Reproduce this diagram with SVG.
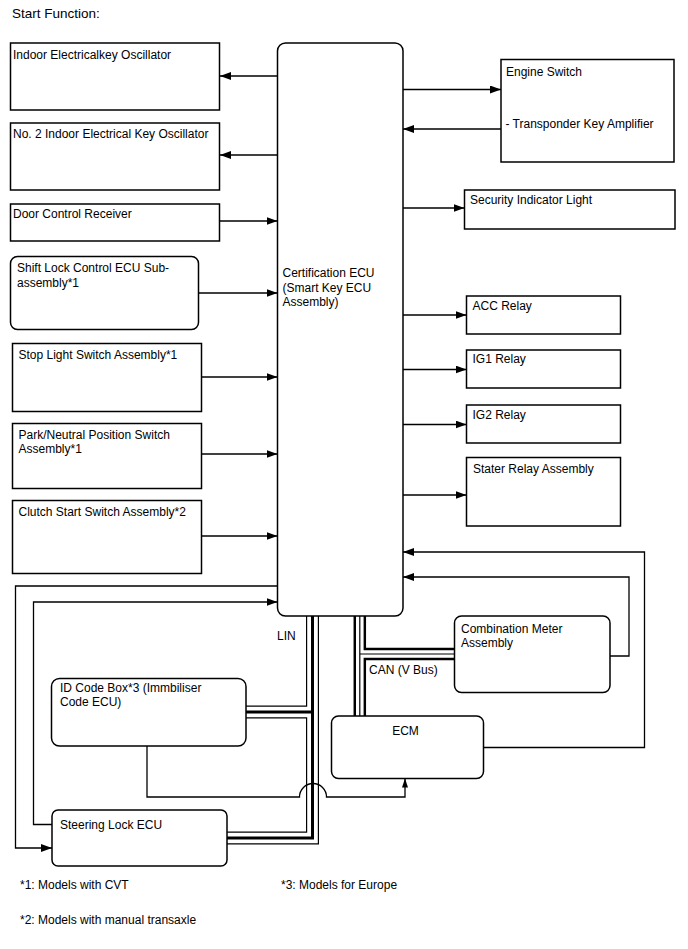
<svg xmlns="http://www.w3.org/2000/svg" width="688" height="949" viewBox="0 0 688 949">
<style>
text{font-family:"Liberation Sans",Arial,sans-serif;font-size:12px;fill:#000}
.box{fill:#fff;stroke:#000;stroke-width:1.5}
.ln{fill:none;stroke:#000;stroke-width:1.3}
.arr{marker-end:url(#ah)}
.lino{fill:none;stroke:#000;stroke-width:13}
.linw{fill:none;stroke:#fff;stroke-width:10.6}
.linc{fill:none;stroke:#000;stroke-width:3}
.cano{fill:none;stroke:#000;stroke-width:12.5}
.canw{fill:none;stroke:#fff;stroke-width:7.6}
.canc{fill:none;stroke:#000;stroke-width:1.2}
</style>
<defs>
<marker id="ah" markerWidth="11" markerHeight="8" refX="11" refY="4" orient="auto" markerUnits="userSpaceOnUse"><path d="M0,0 L11,4 L0,8 z" fill="#000"/></marker>
<marker id="ahs" markerWidth="9" markerHeight="6" refX="9" refY="3" orient="auto" markerUnits="userSpaceOnUse"><path d="M0,0 L9,3 L0,6 z" fill="#000"/></marker>
</defs>
<rect width="688" height="949" fill="#fff"/>
<text x="12" y="17.5" style="font-size:13.5px">Start Function:</text>
<g id="connectors">
<path class="ln arr" d="M277.5,76 H220"/>
<path class="ln arr" d="M277.5,155 H220"/>
<path class="ln arr" d="M220,221 H277.5"/>
<path class="ln arr" d="M198.5,293 H277.5"/>
<path class="ln arr" d="M201.5,377 H277.5"/>
<path class="ln arr" d="M201.5,454 H277.5"/>
<path class="ln arr" d="M201.5,536 H277.5"/>
<path class="ln arr" d="M403,89.5 H501"/>
<path class="ln arr" d="M501,129 H403"/>
<path class="ln arr" d="M403,208 H464.5"/>
<path class="ln arr" d="M403,315 H466.5"/>
<path class="ln arr" d="M403,369.5 H466.5"/>
<path class="ln arr" d="M403,424.5 H466.5"/>
<path class="ln arr" d="M403,495 H466.5"/>
<path class="ln arr" d="M483.5,747.5 H644.5 V552 H403"/>
<path class="ln arr" d="M610,656 H629 V577 H403"/>
<path class="ln arr" d="M277.5,586 H15.5 V848 H52"/>
<path class="ln arr" d="M52,824.5 H33.5 V602 H277.5"/>
<g id="lin-bus">
<path class="lino" d="M312.5,616 V838 H227 M312.5,712 H246"/>
<path class="linw" d="M312.5,616 V838 H227 M312.5,712 H246"/>
<path class="linc" d="M312.5,616 V838 H227 M312.5,712 H246"/>
</g>
<g id="can-bus">
<path class="cano" d="M359.8,616 V716 M359.8,654 H454.5"/>
<path class="canw" d="M359.8,616 V716 M359.8,654 H454.5"/>
<path class="canc" d="M359.8,616 V716 M359.8,654 H454.5"/>
</g>
<path class="ln" d="M147,746 V797 H299.5 A13.5,13.5 0 0 1 326.5,797 H405 V778.5" style="marker-end:url(#ahs)"/>
<text x="277" y="640">LIN</text>
<text x="369" y="673.5">CAN (V Bus)</text>
</g>
<g id="n-indoor"><rect class="box" x="10.5" y="43" width="209" height="67"/><text x="13" y="59">Indoor Electricalkey Oscillator</text></g>
<g id="n-indoor2"><rect class="box" x="10.5" y="123" width="209" height="67"/><text x="13" y="138">No. 2 Indoor Electrical Key Oscillator</text></g>
<g id="n-door"><rect class="box" x="10.5" y="204" width="209" height="37"/><text x="13" y="218">Door Control Receiver</text></g>
<g id="n-shift"><rect class="box" x="10.5" y="256.5" width="188" height="73" rx="7"/><text x="17" y="272">Shift Lock Control ECU Sub-</text><text x="17" y="286.5">assembly*1</text></g>
<g id="n-stop"><rect class="box" x="12.5" y="343.5" width="189" height="68"/><text x="18.5" y="358.5">Stop Light Switch Assembly*1</text></g>
<g id="n-park"><rect class="box" x="12.5" y="423.5" width="189" height="65"/><text x="18.5" y="438.5">Park/Neutral Position Switch</text><text x="18.5" y="452.5">Assembly*1</text></g>
<g id="n-clutch"><rect class="box" x="12.5" y="500.5" width="189" height="73"/><text x="18.5" y="516">Clutch Start Switch Assembly*2</text></g>
<g id="n-ecu"><rect class="box" x="277.5" y="43" width="125.5" height="573" rx="8"/><text x="282.5" y="277">Certification ECU</text><text x="282.5" y="291.5">(Smart Key ECU</text><text x="282.5" y="306">Assembly)</text></g>
<g id="n-engine"><rect class="box" x="501" y="59.5" width="173" height="102.5"/><text x="506" y="76">Engine Switch</text><text x="505.5" y="128">- Transponder Key Amplifier</text></g>
<g id="n-security"><rect class="box" x="464.5" y="190" width="210.5" height="39"/><text x="470" y="204">Security Indicator Light</text></g>
<g id="n-acc"><rect class="box" x="466.5" y="296" width="154" height="38"/><text x="472.5" y="309.5">ACC Relay</text></g>
<g id="n-ig1"><rect class="box" x="466.5" y="350" width="154" height="38"/><text x="472.5" y="363">IG1 Relay</text></g>
<g id="n-ig2"><rect class="box" x="466.5" y="405" width="154" height="38"/><text x="472.5" y="418.5">IG2 Relay</text></g>
<g id="n-stater"><rect class="box" x="466.5" y="457.5" width="154" height="68.5"/><text x="473" y="472.5">Stater Relay Assembly</text></g>
<g id="n-combo"><rect class="box" x="454.5" y="616" width="155.5" height="76.5" rx="7"/><text x="461" y="633">Combination Meter</text><text x="461" y="647">Assembly</text></g>
<g id="n-ecm"><rect class="box" x="331.5" y="716" width="152" height="62.5" rx="7"/><text x="405.5" y="735" text-anchor="middle">ECM</text></g>
<g id="n-idbox"><rect class="box" x="51.5" y="678.5" width="194.5" height="67.5" rx="8"/><text x="60" y="691.5">ID Code Box*3 (Immbiliser</text><text x="60" y="705.5">Code ECU)</text></g>
<g id="n-steer"><rect class="box" x="52" y="810" width="175" height="56" rx="6"/><text x="60" y="828.5">Steering Lock ECU</text></g>
<g id="notes">
<text x="20" y="888.5">*1: Models with CVT</text>
<text x="281" y="888.5">*3: Models for Europe</text>
<text x="20" y="923.5">*2: Models with manual transaxle</text>
</g>
</svg>
